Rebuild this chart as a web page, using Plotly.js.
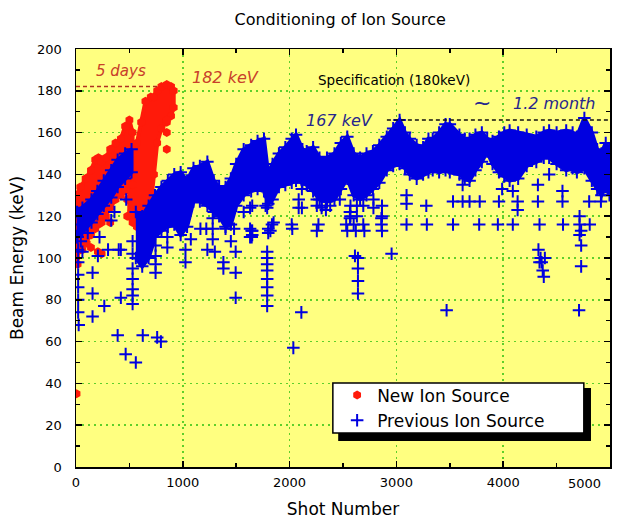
<!DOCTYPE html>
<html><head><meta charset="utf-8">
<script src="https://cdn.plot.ly/plotly-3.0.1.min.js"></script>
<style>html,body{margin:0;padding:0;background:#fff}</style>
</head><body><div id="chart" style="width:623px;height:522px"></div>
<script>
// ---- Previous ion source: dense band envelope (null separates segments)
const blueBandX  = [10,60,145,200,260,330,390,460,520,null,560,620,680,740,800,860,920,980,1040,1100,1160,1230,1290,1340,1400,1450,1500,1570,1640,1700,1760,1800,1840,1900,1960,2020,2060,2120,2160,2220,2280,2350,2420,2480,2540,2600,2660,2720,2780,2840,2910,2970,3030,3080,3125,3190,3250,3300,3340,3400,3460,3500,3590,3640,3685,3740,3800,3850,3900,3960,4010,4060,4140,4220,4310,4380,4430,4500,4590,4650,4690,4760,4830,4880,4920,4960,4995];
const blueBandLo = [110,113,117,121,125,129,134,138,141,null,100,96,100,110,113,115,116,111,115,127,127,125,122,120,115,116,125,130,132,133,132,126,128,134,135,136,137,136,135,132,128,127,128,133,138,130,128,130,133,136,142,144,145,143,140,138,140,141,142,141,142,141,140,138,137,142,146,151,145,141,139,137,138,144,146,148,148,145,142,143,141,143,137,133,130,134,130];
const blueBandHi = [122,124,128,132,137,142,147,150,152,null,122,120,125,130,134,137,140,141,137,143,144,146,137,134,134,138,145,152,154,156,157,140,145,150,153,157,159,152,151,153,148,148,150,155,158,150,148,150,151,154,158,162,166,160,157,154,153,157,157,160,164,164,159,157,157,159,160,157,156,158,160,161,160,159,158,160,161,160,161,160,158,167,160,152,150,155,152];
// ---- Previous ion source: scattered shots below the band
const blueX = [20,20,20,20,20,20,25,45,60,155,155,155,205,265,300,400,420,420,390,465,560,625,760,795,530,530,530,530,530,530,530,745,745,745,745,855,855,110,220,330,360,470,15,15,
 1025,1025,1075,1165,1220,1280,1230,1280,1280,1300,1380,1380,1400,1480,1450,1495,1495,1495,1570,1630,1630,1630,1645,1645,
 1790,1790,1790,1790,1790,1790,1790,1790,1790,1800,1800,1850,2025,2085,2085,2110,2035,
 1650,1775,2255,2300,2380,2570,2630,2690,2865,
 1835,2020,2270,2530,2600,2690,2860,3095,3285,3530,3775,3950,4090,4340,4560,4715,4810,
 1650,1820,2255,2540,2620,2700,2865,4730,2570,2630,2865,4715,1650,4715,
 2115,2115,2255,2300,2340,2340,2470,2565,2565,2612,2640,2640,2640,2640,2785,2785,2860,2955,3095,3095,3280,3530,3470,
 3620,3620,3685,3780,3960,3990,4090,4135,4135,4325,4325,4430,4555,4555,4730,4730,4710,4805,4915,4915,
 4330,4350,4360,4370,4380,4340,4390];
const blueY = [104,98,92,86,80,74,68,108,103,93,83,72,101,77,104,104,104,81,63,54,50,63,62,60,108,102,95,90,85,82,78,106,101,97,93,105,110,112,110,118,122,128,116,110,
 98,104,109,114,114,114,104,109,119,103,98,95,114,114,108,103,93,81,122,114,110,124,113,110,
 124,103,100,97,94,90,86,82,77,114,112,117,114,124,128,74,57,
 125,125,125,125,125,125,125,125,125,
 116,116,116,116,116,116,116,116,116,116,116,116,116,116,116,116,116,
 113,113,113,113,113,113,113,113,120,120,120,120,111,111,
 133,124,128,124,127,123,128,122,119,101,100,95,89,83,128,124,119,102,130,126,125,127,75,
 127,135,127,127,127,133,132,123,127,127,135,140,132,127,106,96,75,127,127,133,
 104,100,98,94,91,98,100];

// ---- New ion source: dense band envelope (null separates segments)
const redBandX  = [0,40,90,140,180,210,240,280,320,370,420,460,500,530,null,480,530,570,610,650,700,730,760,800,850,890,915];
const redBandLo = [100,104,108,111,114,116,117,120,124,128,130,132,135,135,null,120,117,115,114,118,125,140,155,162,165,168,172];
const redBandHi = [130,134,138,142,147,148,146,148,152,155,157,163,166,160,null,140,150,155,165,175,177,177,180,182,183,182,180];
// ---- New ion source: scattered shots
const redX = [5,15,60,100,140,205,240,320,850,850,850,480,520];
const redY = [35,97,104,107,105,103,102,117,166,160,152,128,122];

// ---- axis ticks and text
const xTickVals = [0,1000,2000,3000,4000,5000];
const xTickText = ['0','1000','2000','3000','4000',''];
const xLastLabel = '5000';
const titleText = 'Conditioning of Ion Source';
const xTitle = 'Shot Number';
const yTitle = 'Beam Energy (keV)';
const legendNames = ['New Ion Source', 'Previous Ion Source'];

const FONT = 'DejaVu Sans, Arial, sans-serif';
const BLUE = '#0000e0';
const RED = '#ff1a0a';

function bandPolygon(X, lo, hi) {
  const px = [], py = [];
  let seg = [];
  const flush = () => {
    if (!seg.length) return;
    if (px.length) { px.push(null); py.push(null); }
    seg.forEach(i => { px.push(X[i]); py.push(hi[i]); });
    seg.slice().reverse().forEach(i => { px.push(X[i]); py.push(lo[i]); });
    seg = [];
  };
  X.forEach((v, i) => { if (v === null) flush(); else seg.push(i); });
  flush();
  return {x: px, y: py};
}
function edgePoints(X, lo, hi) {
  const x = [], y = [];
  X.forEach((v, i) => { if (v !== null) { x.push(v, v); y.push(lo[i], hi[i]); } });
  return {x, y};
}

const redPoly = bandPolygon(redBandX, redBandLo, redBandHi);
const bluePoly = bandPolygon(blueBandX, blueBandLo, blueBandHi);
const redEdge = edgePoints(redBandX, redBandLo, redBandHi);
const blueEdge = edgePoints(blueBandX, blueBandLo, blueBandHi);

const traces = [
  {x: redPoly.x, y: redPoly.y, mode: 'lines', fill: 'toself', fillcolor: RED,
   line: {color: RED, width: 4}, showlegend: false, hoverinfo: 'skip', connectgaps: false},
  {x: redEdge.x.concat(redX), y: redEdge.y.concat(redY), mode: 'markers', name: legendNames[0],
   marker: {symbol: 'hexagon', size: 9, color: RED, line: {width: 0}}},
  {x: bluePoly.x, y: bluePoly.y, mode: 'lines', fill: 'toself', fillcolor: BLUE,
   line: {color: BLUE, width: 4}, showlegend: false, hoverinfo: 'skip', connectgaps: false},
  {x: blueEdge.x.concat(blueX), y: blueEdge.y.concat(blueY), mode: 'markers', name: legendNames[1],
   marker: {symbol: 'cross-thin', size: 9, color: BLUE, line: {width: 2, color: BLUE}}}
];

const axisCommon = {
  showgrid: true, gridcolor: '#5fd02a', griddash: '2px,4px', gridwidth: 1.5,
  ticks: 'inside', ticklen: 6, tickwidth: 1.5, tickcolor: '#000',
  showline: true, linecolor: '#000', linewidth: 1.5, mirror: 'ticks', zeroline: false,
  tickfont: {family: FONT, size: 13, color: '#000'}, fixedrange: true
};

const layout = {
  width: 623, height: 522,
  margin: {l: 76, r: 13, t: 49, b: 55},
  paper_bgcolor: '#ffffff', plot_bgcolor: '#ffff80',
  font: {family: FONT, color: '#000'},
  title: {text: titleText, font: {family: FONT, size: 16, color: '#000'},
          x: 0.546, xref: 'container', xanchor: 'center', y: 0.962, yref: 'container', yanchor: 'middle'},
  xaxis: Object.assign({}, axisCommon, {
    range: [0, 5000], tickmode: 'array', tickvals: xTickVals, ticktext: xTickText, ticklabelstandoff: 3,
    minor: {ticks: 'inside', dtick: 500, ticklen: 4, tickcolor: '#000', showgrid: false},
    title: {text: xTitle, font: {family: FONT, size: 17}, standoff: 14}
  }),
  yaxis: Object.assign({}, axisCommon, {
    range: [0, 200], dtick: 20, tick0: 0, ticklabelstandoff: 10,
    minor: {ticks: 'inside', dtick: 10, ticklen: 4, tickcolor: '#000', showgrid: false},
    title: {text: yTitle, font: {family: FONT, size: 17}, standoff: 9}
  }),
  showlegend: true,
  legend: {x: 0.489, y: 0.214, xanchor: 'left', yanchor: 'top', bgcolor: 'rgba(0,0,0,0)',
           borderwidth: 0, font: {family: FONT, size: 17, color: '#000'}, itemsizing: 'trace'},
  shapes: [
    {type: 'rect', xref: 'paper', yref: 'paper', x0: 0.491, x1: 0.9644, y0: 0.0622, y1: 0.189,
     fillcolor: '#000', line: {width: 0}, layer: 'above'},
    {type: 'rect', xref: 'paper', yref: 'paper', x0: 0.481, x1: 0.951, y0: 0.0813, y1: 0.201,
     fillcolor: '#fff', line: {width: 1.5, color: '#000'}, layer: 'above'},
    {type: 'line', xref: 'x', yref: 'y', x0: 0, x1: 770, y0: 182, y1: 182,
     line: {color: '#b03020', width: 1.5, dash: '4px,3px'}},
    {type: 'line', xref: 'x', yref: 'y', x0: 2911, x1: 5000, y0: 166, y1: 166,
     line: {color: '#111', width: 1.5, dash: '4px,3px'}}
  ],
  annotations: [
    {x: 421, y: 189.5, text: '<i>5 days</i>', showarrow: false, font: {family: FONT, size: 15, color: '#c8402a'}},
    {x: 1404, y: 186.5, text: '<i>182 keV</i>', showarrow: false, font: {family: FONT, size: 16, color: '#c8402a'}},
    {x: 2977, y: 185, text: 'Specification (180keV)', showarrow: false, font: {family: FONT, size: 13.5, color: '#000'}},
    {x: 2466, y: 166, text: '<i>167 keV</i>', showarrow: false, font: {family: FONT, size: 16, color: '#26268c'}},
    {x: 3800, y: 174.5, text: '~', showarrow: false, font: {family: FONT, size: 22, color: '#26268c'}},
    {x: 4474, y: 174, text: '<i>1.2 month</i>', showarrow: false, font: {family: FONT, size: 16, color: '#26268c'}},
    {x: 0.9865, xref: 'paper', y: 0, yref: 'paper', yanchor: 'top', yshift: -7, text: xLastLabel,
     showarrow: false, font: {family: FONT, size: 13, color: '#000'}}
  ]
};

Plotly.newPlot('chart', traces, layout, {displayModeBar: false, staticPlot: true});
</script></body></html>
